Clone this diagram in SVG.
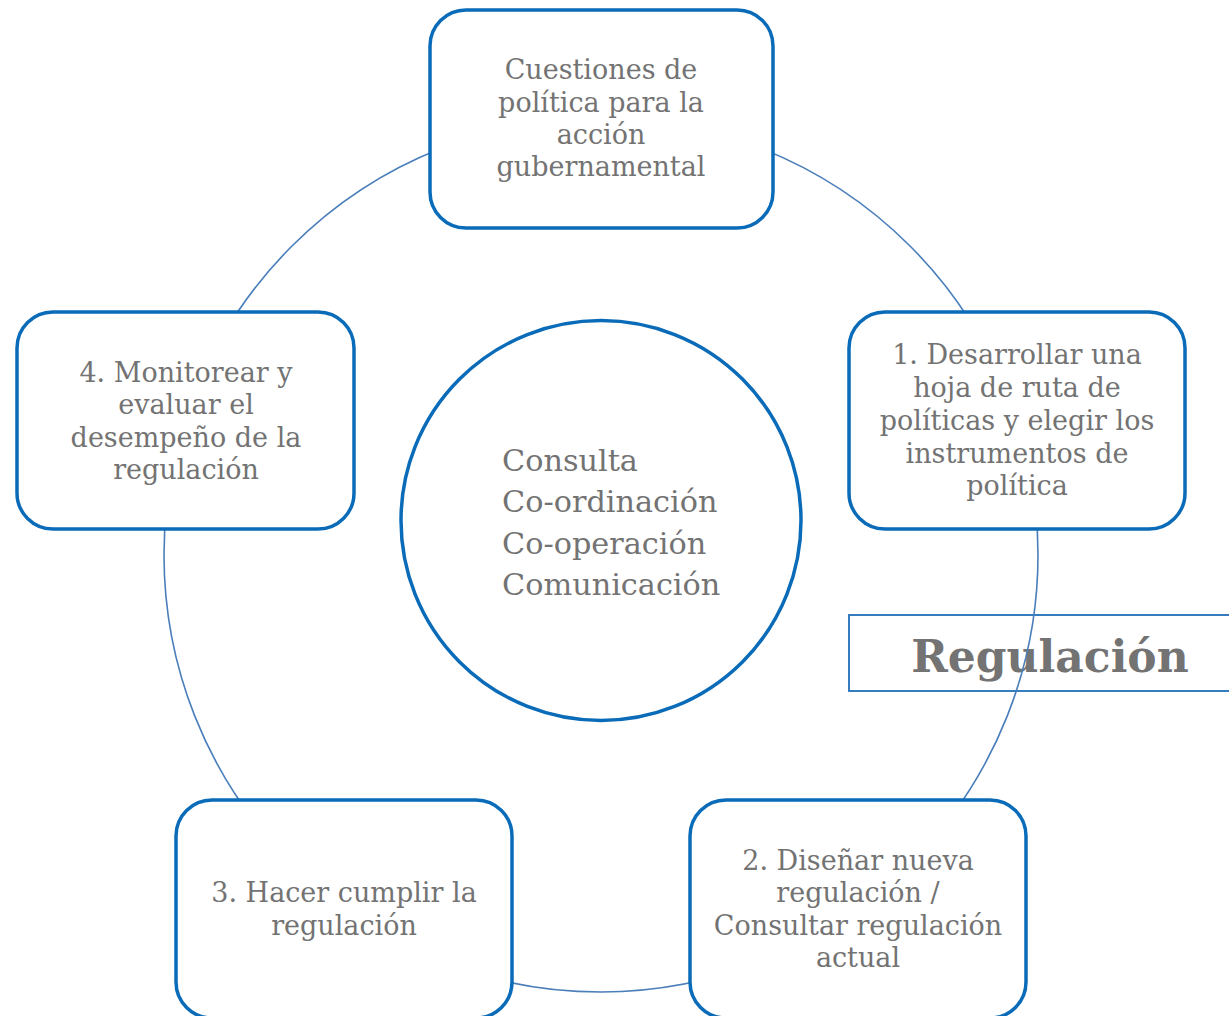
<svg xmlns="http://www.w3.org/2000/svg" width="1229" height="1016" viewBox="0 0 1229 1016">
<style>
.node{fill:#fff;stroke:#0a6bb8;stroke-width:3.5}
.t{font-family:"DejaVu Serif","Liberation Serif",serif;font-size:27px;fill:#737373;text-anchor:middle}
.c{font-family:"DejaVu Serif","Liberation Serif",serif;font-size:30.3px;fill:#737373}
.conn{fill:none;stroke:#4a7ebb;stroke-width:1.6}
</style>
<rect width="1229" height="1016" fill="#fff"/>
<g id="regulacion">
<rect x="849" y="615" width="390" height="76" fill="#fff" stroke="#1f6fb8" stroke-width="1.8"/>
<text x="1050" y="672" font-family="DejaVu Serif, Liberation Serif, serif" font-size="44" font-weight="bold" fill="#737373" text-anchor="middle">Regulación</text>
</g>
<g id="connectors">
<circle class="conn" cx="601" cy="555" r="437"/>
</g>
<g id="center">
<circle cx="601" cy="520.5" r="200" fill="#fff" stroke="#0a6bb8" stroke-width="3.5"/>
<text class="c" x="502" y="471">Consulta</text>
<text class="c" x="502" y="512">Co-ordinación</text>
<text class="c" x="502" y="554">Co-operación</text>
<text class="c" x="502" y="595">Comunicación</text>
</g>
<g id="top">
<rect class="node" x="430" y="10" width="343" height="218" rx="36"/>
<text class="t" x="601" y="79">Cuestiones de</text>
<text class="t" x="601" y="112">política para la</text>
<text class="t" x="601" y="144">acción</text>
<text class="t" x="601" y="176">gubernamental</text>
</g>
<g id="n1">
<rect class="node" x="849" y="312" width="336" height="217" rx="36"/>
<text class="t" x="1017" y="364">1. Desarrollar una</text>
<text class="t" x="1017" y="397">hoja de ruta de</text>
<text class="t" x="1017" y="430">políticas y elegir los</text>
<text class="t" x="1017" y="463">instrumentos de</text>
<text class="t" x="1017" y="495">política</text>
</g>
<g id="n4">
<rect class="node" x="17" y="312" width="337" height="217" rx="36"/>
<text class="t" x="186" y="382">4. Monitorear y</text>
<text class="t" x="186" y="414">evaluar el</text>
<text class="t" x="186" y="447">desempeño de la</text>
<text class="t" x="186" y="479">regulación</text>
</g>
<g id="n3">
<rect class="node" x="176" y="800" width="336" height="218" rx="36"/>
<text class="t" x="344" y="902">3. Hacer cumplir la</text>
<text class="t" x="344" y="935">regulación</text>
</g>
<g id="n2">
<rect class="node" x="690" y="800" width="336" height="218" rx="36"/>
<text class="t" x="858" y="870">2. Diseñar nueva</text>
<text class="t" x="858" y="902">regulación /</text>
<text class="t" x="858" y="935">Consultar regulación</text>
<text class="t" x="858" y="967">actual</text>
</g>
</svg>
